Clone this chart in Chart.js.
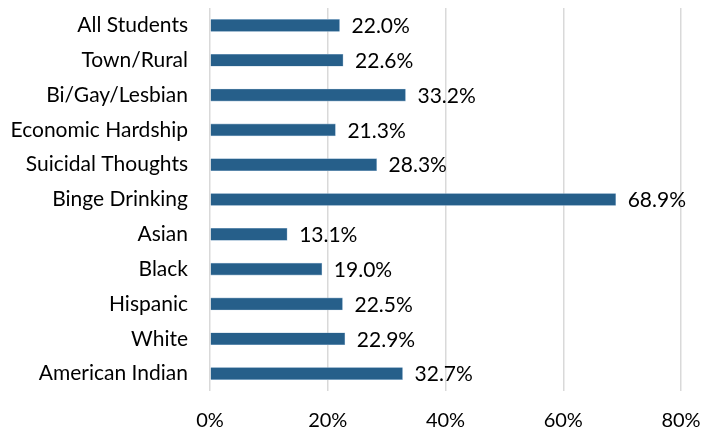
<!DOCTYPE html>
<html><head><meta charset="utf-8">
<script src="https://cdn.jsdelivr.net/npm/chart.js@4"></script>
<style>html,body{margin:0;padding:0;background:#fff}#wrap{width:703px;height:434px}</style>
</head><body><div id="wrap"><canvas id="c" width="703" height="434"></canvas></div>
<script>
const categories = ["All Students","Town/Rural","Bi/Gay/Lesbian","Economic Hardship","Suicidal Thoughts","Binge Drinking","Asian","Black","Hispanic","White","American Indian"];
const values = [22.0,22.6,33.2,21.3,28.3,68.9,13.1,19.0,22.5,22.9,32.7];
const tickValues = [0,20,40,60,80];

const FONT = "Lato, 'Open Sans', sans-serif";
const labelPlugin = {
  id: 'vlabels',
  afterDatasetsDraw(chart) {
    const ctx = chart.ctx;
    const meta = chart.getDatasetMeta(0);
    ctx.save();
    ctx.font = "21px " + FONT;
    ctx.fillStyle = "#000";
    ctx.textAlign = "left";
    ctx.textBaseline = "middle";
    meta.data.forEach((bar, i) => {
      ctx.fillText(values[i].toFixed(1) + "%", bar.x + 12, bar.y + 1);
    });
    ctx.restore();
  }
};

new Chart(document.getElementById('c'), {
  type: 'bar',
  data: {
    labels: categories,
    datasets: [{
      data: values,
      backgroundColor: '#265F8A',
      borderColor: '#8FB0CC',
      borderWidth: 0.6,
      barThickness: 12
    }]
  },
  plugins: [labelPlugin],
  options: {
    indexAxis: 'y',
    animation: false,
    responsive: false,
    devicePixelRatio: 1,
    layout: { padding: { top: 8, right: 22, left: 0, bottom: 0 } },
    plugins: { legend: { display: false }, tooltip: { enabled: false } },
    scales: {
      x: {
        min: 0, max: 80,
        afterBuildTicks(axis) { axis.ticks = tickValues.map(v => ({ value: v })); },
        afterFit(axis) { axis.height = 43; axis.paddingLeft = 0; axis.paddingRight = 0; },
        grid: { color: '#D9D9D9', lineWidth: 1.5, drawTicks: false },
        border: { display: false },
        ticks: { padding: 18, color: '#000', font: { family: FONT, size: 20 }, callback: v => v + '%' }
      },
      y: {
        afterFit(axis) { axis.width = 210; axis.paddingTop = 0; axis.paddingBottom = 0; },
        grid: { display: false, drawTicks: false },
        border: { display: false },
        ticks: { padding: 22, color: '#000', font: { family: FONT, size: 21 } }
      }
    }
  }
});
</script></body></html>
